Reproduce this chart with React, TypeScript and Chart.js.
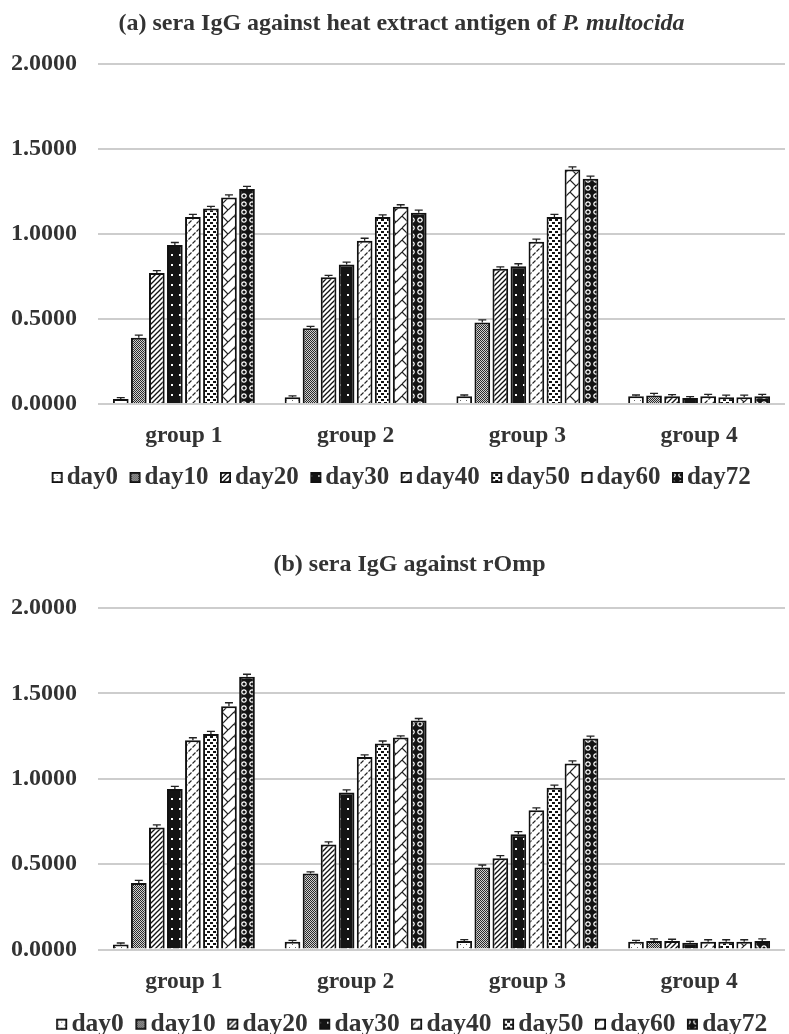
import React, { useEffect, useRef } from 'react';
import { Chart, registerables } from 'chart.js';

Chart.register(...registerables);

// ---------- data ----------
const groups = ['group 1', 'group 2', 'group 3', 'group 4'];
const days = ['day0', 'day10', 'day20', 'day30', 'day40', 'day50', 'day60', 'day72'];
const yTickValues = [0, 0.5, 1, 1.5, 2];

// (a) heat extract antigen of P. multocida
const heatDay0 = [0.03, 0.04, 0.045, 0.045];
const heatDay10 = [0.39, 0.445, 0.48, 0.05];
const heatDay20 = [0.77, 0.745, 0.795, 0.045];
const heatDay30 = [0.935, 0.82, 0.81, 0.035];
const heatDay40 = [1.1, 0.96, 0.955, 0.045];
const heatDay50 = [1.15, 1.1, 1.1, 0.04];
const heatDay60 = [1.215, 1.16, 1.38, 0.04];
const heatDay72 = [1.265, 1.125, 1.325, 0.045];
const heatErrors = [
  [0.008, 0.008, 0.008, 0.008],
  [0.015, 0.012, 0.015, 0.012],
  [0.015, 0.012, 0.012, 0.01],
  [0.015, 0.015, 0.015, 0.008],
  [0.015, 0.015, 0.015, 0.012],
  [0.012, 0.012, 0.015, 0.012],
  [0.015, 0.012, 0.015, 0.012],
  [0.015, 0.015, 0.015, 0.012],
];

// (b) rOmp
const rompDay0 = [0.03, 0.045, 0.05, 0.045];
const rompDay10 = [0.39, 0.445, 0.48, 0.05];
const rompDay20 = [0.715, 0.615, 0.535, 0.05];
const rompDay30 = [0.94, 0.92, 0.675, 0.04];
const rompDay40 = [1.225, 1.128, 0.815, 0.045];
const rompDay50 = [1.262, 1.206, 0.948, 0.045];
const rompDay60 = [1.425, 1.241, 1.09, 0.045];
const rompDay72 = [1.597, 1.341, 1.235, 0.05];
const rompErrors = [
  [0.008, 0.008, 0.008, 0.008],
  [0.015, 0.01, 0.015, 0.012],
  [0.015, 0.015, 0.015, 0.01],
  [0.015, 0.015, 0.015, 0.008],
  [0.015, 0.012, 0.015, 0.012],
  [0.015, 0.015, 0.015, 0.012],
  [0.02, 0.01, 0.015, 0.012],
  [0.015, 0.012, 0.015, 0.012],
];

const heatValues = [heatDay0, heatDay10, heatDay20, heatDay30, heatDay40, heatDay50, heatDay60, heatDay72];
const rompValues = [rompDay0, rompDay10, rompDay20, rompDay30, rompDay40, rompDay50, rompDay60, rompDay72];

// ---------- styles ----------
const FONT_FAMILY = '"Liberation Serif", "Times New Roman", serif';
const TEXT_COLOR = '#333';

function tile(w: number, h: number, draw: (g: CanvasRenderingContext2D) => void) {
  const c = document.createElement('canvas');
  c.width = w;
  c.height = h;
  const g = c.getContext('2d') as CanvasRenderingContext2D;
  draw(g);
  return c;
}

function line(g: CanvasRenderingContext2D, x1: number, y1: number, x2: number, y2: number) {
  g.beginPath();
  g.moveTo(x1, y1);
  g.lineTo(x2, y2);
  g.stroke();
}

function makeTiles(): HTMLCanvasElement[] {
  return [
    // day0: white, sparse dots
    tile(6, 6, (g) => {
      g.fillStyle = '#fff';
      g.fillRect(0, 0, 6, 6);
      g.fillStyle = '#666';
      g.fillRect(1, 1, 1, 1);
      g.fillRect(4, 4, 1, 1);
    }),
    // day10: fine checker (gray)
    tile(2, 2, (g) => {
      g.fillStyle = '#d0d0d0';
      g.fillRect(0, 0, 2, 2);
      g.fillStyle = '#2a2a2a';
      g.fillRect(0, 0, 1, 1);
      g.fillRect(1, 1, 1, 1);
    }),
    // day20: diagonal hatch
    tile(5, 5, (g) => {
      g.fillStyle = '#fff';
      g.fillRect(0, 0, 5, 5);
      g.strokeStyle = '#111';
      g.lineWidth = 1.3;
      line(g, -1, 6, 6, -1);
      line(g, -3, 3, 3, -3);
      line(g, 2, 8, 8, 2);
    }),
    // day30: black with white dots
    tile(8, 10, (g) => {
      g.fillStyle = '#141414';
      g.fillRect(0, 0, 8, 10);
      g.fillStyle = '#fff';
      g.fillRect(3, 4, 2, 2);
    }),
    // day40: white with short dashes
    tile(8, 8, (g) => {
      g.fillStyle = '#fff';
      g.fillRect(0, 0, 8, 8);
      g.strokeStyle = '#222';
      g.lineWidth = 1.1;
      line(g, 0.5, 3.5, 3.5, 0.5);
      line(g, 4.5, 7.5, 7.5, 4.5);
    }),
    // day50: dense small squares
    tile(6, 6, (g) => {
      g.fillStyle = '#fff';
      g.fillRect(0, 0, 6, 6);
      g.fillStyle = '#111';
      g.fillRect(0, 0, 3, 2);
      g.fillRect(3, 3, 3, 2);
    }),
    // day60: large zigzag lattice
    tile(12, 12, (g) => {
      g.fillStyle = '#fff';
      g.fillRect(0, 0, 12, 12);
      g.strokeStyle = '#222';
      g.lineWidth = 1.2;
      line(g, 0, 6, 6, 0);
      line(g, 6, 12, 12, 6);
      line(g, 6, 0, 12, 6);
    }),
    // day72: black with white rings
    tile(8, 8, (g) => {
      g.fillStyle = '#141414';
      g.fillRect(0, 0, 8, 8);
      g.strokeStyle = '#fff';
      g.lineWidth = 1.2;
      g.beginPath();
      g.arc(4, 4, 2.2, 0, Math.PI * 2);
      g.stroke();
    }),
  ];
}

// legend swatch: 11x11 patterned box, drawn offset inside a wider transparent image
function makeSwatch(t: HTMLCanvasElement, offset: number) {
  const W = 26;
  const S = 11;
  const bx = Math.round(W / 2 + offset - S / 2);
  return tile(W, 13, (g) => {
    const p = g.createPattern(t, 'repeat');
    if (p) g.fillStyle = p;
    g.fillRect(bx, 1, S, S);
    g.strokeStyle = '#111';
    g.lineWidth = 1.8;
    g.strokeRect(bx + 0.9, 1.9, S - 1.8, S - 1.8);
  });
}

const errorBarPlugin = {
  id: 'errorBars',
  afterDatasetsDraw(chart: any) {
    const ctx = chart.ctx;
    const yScale = chart.scales.y;
    ctx.save();
    ctx.strokeStyle = '#222';
    ctx.lineWidth = 1.3;
    chart.data.datasets.forEach((ds: any, i: number) => {
      const meta = chart.getDatasetMeta(i);
      meta.data.forEach((bar: any, j: number) => {
        const v = ds.data[j];
        const e = ds.errors ? ds.errors[j] : 0;
        const yTop = yScale.getPixelForValue(v + e);
        ctx.beginPath();
        ctx.moveTo(bar.x, bar.y);
        ctx.lineTo(bar.x, yTop);
        ctx.moveTo(bar.x - 4, yTop);
        ctx.lineTo(bar.x + 4, yTop);
        ctx.stroke();
      });
    });
    ctx.restore();
  },
};

type PanelProps = {
  values: number[][];
  errors: number[][];
  height: number;
  padLeft: number;
  xAxisHeight: number;
  legendSize: number;
};

const POINT_W = 1;
const CHART_LEFT = 98;
const LABEL_X = 11;

function BarPanel({ values, errors, height, padLeft, xAxisHeight, legendSize }: PanelProps) {
  const ref = useRef<HTMLCanvasElement | null>(null);

  useEffect(() => {
    const canvas = ref.current;
    if (!canvas) return;
    const ctx = canvas.getContext('2d') as CanvasRenderingContext2D;
    const tiles = makeTiles();
    const patterns = tiles.map((t) => ctx.createPattern(t, 'repeat'));
    const swatchOffset = POINT_W / 2 + legendSize / 2 - 9.5;
    const swatches = tiles.map((t) => makeSwatch(t, swatchOffset));

    const chart = new Chart(canvas, {
      type: 'bar',
      data: {
        labels: groups,
        datasets: days.map((d, i) => ({
          label: d,
          data: values[i],
          errors: errors[i],
          backgroundColor: patterns[i] as any,
          borderColor: '#111',
          borderWidth: 2,
          categoryPercentage: 0.84,
          barPercentage: 0.87,
        })) as any,
      },
      options: {
        animation: false,
        responsive: false,
        events: [],
        layout: { padding: { top: 64, left: padLeft, right: 4, bottom: 0 } },
        scales: {
          x: {
            grid: { display: false, drawTicks: false },
            border: { display: false },
            afterFit: (axis: any) => {
              axis.height = xAxisHeight;
            },
            ticks: {
              autoSkip: false,
              maxRotation: 0,
              padding: 18,
              color: TEXT_COLOR,
              font: { family: FONT_FAMILY, size: 23.5, weight: 'bold' },
            },
          },
          y: {
            min: 0,
            max: 2,
            afterBuildTicks: (axis: any) => {
              axis.ticks = yTickValues.map((v) => ({ value: v }));
            },
            afterFit: (axis: any) => {
              axis.width = CHART_LEFT - padLeft;
            },
            grid: { color: '#cdcdcd', lineWidth: 2, drawTicks: false },
            border: { display: false },
            ticks: {
              mirror: true,
              padding: LABEL_X - CHART_LEFT,
              color: TEXT_COLOR,
              font: { family: FONT_FAMILY, size: 24, weight: 'bold' },
              callback: (v: any) => Number(v).toFixed(4),
            },
          },
        },
        plugins: {
          title: { display: false },
          tooltip: { enabled: false },
          legend: {
            position: 'bottom',
            labels: {
              usePointStyle: true,
              pointStyleWidth: POINT_W,
              boxHeight: 10,
              padding: 13,
              color: TEXT_COLOR,
              font: { family: FONT_FAMILY, size: legendSize, weight: 'bold' },
              generateLabels: () =>
                days.map((d, i) => ({
                  text: d,
                  pointStyle: swatches[i],
                  fillStyle: '#fff',
                  strokeStyle: '#111',
                  lineWidth: 0,
                  fontColor: TEXT_COLOR,
                  hidden: false,
                  datasetIndex: i,
                })) as any,
            },
          },
        },
      } as any,
      plugins: [errorBarPlugin],
    });
    return () => chart.destroy();
  }, [values, errors, height, padLeft, xAxisHeight, legendSize]);

  return <canvas ref={ref} width={789} height={height} style={{ display: 'block', width: 789, height }} />;
}

const titleStyle: React.CSSProperties = {
  position: 'absolute',
  width: 789,
  textAlign: 'center',
  fontFamily: FONT_FAMILY,
  fontWeight: 'bold',
  fontSize: 24,
  lineHeight: '28px',
  color: TEXT_COLOR,
  whiteSpace: 'nowrap',
};

export default function App() {
  return (
    <div
      style={{
        position: 'absolute',
        left: 0,
        top: 0,
        width: 789,
        height: 1034,
        overflow: 'hidden',
        background: '#fff',
      }}
    >
      <div style={{ position: 'absolute', left: 0, top: 0 }}>
        <BarPanel values={heatValues} errors={heatErrors} height={500} padLeft={19} xAxisHeight={48} legendSize={25} />
      </div>
      <div style={{ ...titleStyle, left: 7, top: 8 }}>
        (a) sera IgG against heat extract antigen of <i>P. multocida</i>
      </div>
      <div style={{ position: 'absolute', left: 0, top: 544 }}>
        <BarPanel values={rompValues} errors={rompErrors} height={503} padLeft={40} xAxisHeight={49} legendSize={25.5} />
      </div>
      <div style={{ ...titleStyle, left: 15, top: 549 }}>(b) sera IgG against rOmp</div>
    </div>
  );
}
